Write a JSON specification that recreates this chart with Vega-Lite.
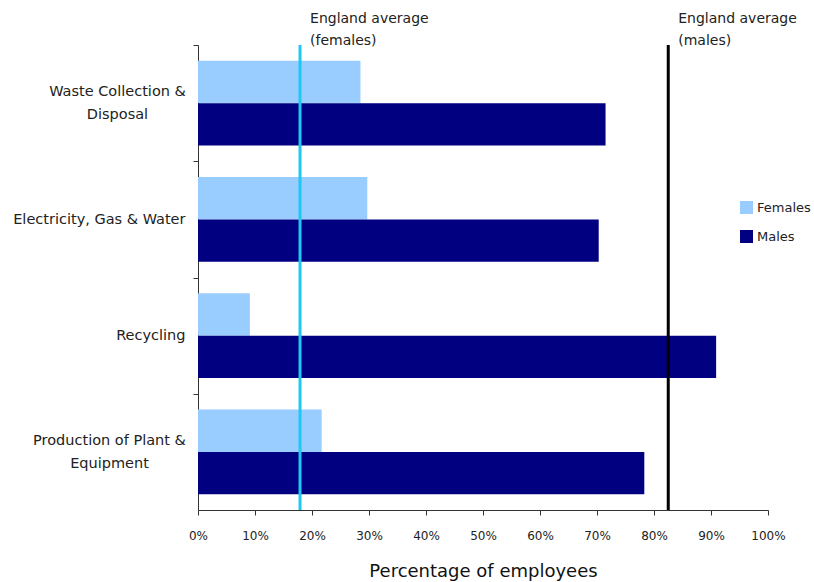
{
  "$schema": "https://vega.github.io/schema/vega-lite/v6.json",
  "width": 570,
  "height": 465,
  "autosize": {"type": "none"},
  "padding": {"left": 198, "top": 45, "right": 46, "bottom": 72},
  "background": "white",
  "config": {"view": {"stroke": null}, "font": "DejaVu Sans"},
  "layer": [
    {
      "data": {
        "values": [
          {"sector": "Waste Collection & Disposal", "sex": "Females", "pct": 0.285},
          {"sector": "Waste Collection & Disposal", "sex": "Males", "pct": 0.715},
          {"sector": "Electricity, Gas & Water", "sex": "Females", "pct": 0.297},
          {"sector": "Electricity, Gas & Water", "sex": "Males", "pct": 0.703},
          {"sector": "Recycling", "sex": "Females", "pct": 0.091},
          {"sector": "Recycling", "sex": "Males", "pct": 0.909},
          {"sector": "Production of Plant & Equipment", "sex": "Females", "pct": 0.217},
          {"sector": "Production of Plant & Equipment", "sex": "Males", "pct": 0.783}
        ]
      },
      "mark": {"type": "bar"},
      "encoding": {
        "y": {
          "field": "sector",
          "type": "nominal",
          "sort": ["Waste Collection & Disposal", "Electricity, Gas & Water", "Recycling", "Production of Plant & Equipment"],
          "scale": {"paddingInner": 0.27, "paddingOuter": 0.135},
          "axis": {
            "title": null,
            "tickOffset": -58.125,
            "tickSize": 5,
            "tickColor": "#333333",
            "domainColor": "#333333",
            "labelFontSize": 14.5,
            "labelColor": "#222222",
            "labelLineHeight": 23,
            "labelLimit": 250,
            "labelAlign": {"condition": {"test": "indexof(datum.value, 'Waste') >= 0 || indexof(datum.value, 'Production') >= 0", "value": "center"}, "value": "right"},
            "labelPadding": {"condition": [{"test": "indexof(datum.value, 'Waste') >= 0", "value": 76}, {"test": "indexof(datum.value, 'Production') >= 0", "value": 84}], "value": 8},
            "labelOffset": {"condition": {"test": "indexof(datum.value, 'Waste') >= 0 || indexof(datum.value, 'Production') >= 0", "value": 46.6}, "value": 58.1},
            "labelExpr": "datum.value == 'Waste Collection & Disposal' ? ['Waste Collection &', 'Disposal'] : datum.value == 'Production of Plant & Equipment' ? ['Production of Plant &', 'Equipment'] : datum.value"
          }
        },
        "yOffset": {"field": "sex", "type": "nominal", "sort": ["Females", "Males"]},
        "x": {
          "field": "pct",
          "type": "quantitative",
          "scale": {"domain": [0, 1], "nice": false},
          "axis": {
            "title": "Percentage of employees",
            "titleFontSize": 18,
            "titleFontWeight": "normal",
            "titleColor": "#111111",
            "titlePadding": 21,
            "format": ".0%",
            "values": [0, 0.1, 0.2, 0.3, 0.4, 0.5, 0.6, 0.7, 0.8, 0.9, 1],
            "grid": false,
            "tickSize": 5,
            "tickColor": "#333333",
            "domainColor": "#333333",
            "labelFontSize": 12,
            "labelColor": "#222222",
            "labelPadding": 15,
            "labelFlush": false
          }
        },
        "color": {
          "field": "sex",
          "type": "nominal",
          "scale": {"domain": ["Females", "Males"], "range": ["#99CCFF", "#000080"]},
          "legend": {
            "title": null,
            "orient": "none",
            "legendX": 542,
            "legendY": 156,
            "symbolType": "square",
            "symbolSize": 169,
            "symbolStrokeWidth": 0,
            "labelFontSize": 13,
            "labelColor": "#222222",
            "labelOffset": 4,
            "rowPadding": 15
          }
        }
      }
    },
    {
      "data": {
        "values": [
          {"avg": 0.179, "who": "f"},
          {"avg": 0.825, "who": "m"}
        ]
      },
      "mark": {"type": "rule", "strokeWidth": 3},
      "encoding": {
        "x": {"field": "avg", "type": "quantitative"},
        "color": {"field": "who", "type": "nominal", "scale": {"domain": ["f", "m"], "range": ["#1EC8F0", "#000000"]}, "legend": null}
      }
    },
    {
      "data": {
        "values": [
          {"label": "England average\n(females)", "avg": 0.179},
          {"label": "England average\n(males)", "avg": 0.825}
        ]
      },
      "mark": {"type": "text", "align": "left", "baseline": "top", "dx": 10, "dy": -33, "fontSize": 14, "lineHeight": 22, "lineBreak": "\n", "color": "#222222"},
      "encoding": {
        "x": {"field": "avg", "type": "quantitative"},
        "y": {"value": 0},
        "text": {"field": "label"}
      }
    }
  ],
  "resolve": {"scale": {"color": "independent"}}
}
